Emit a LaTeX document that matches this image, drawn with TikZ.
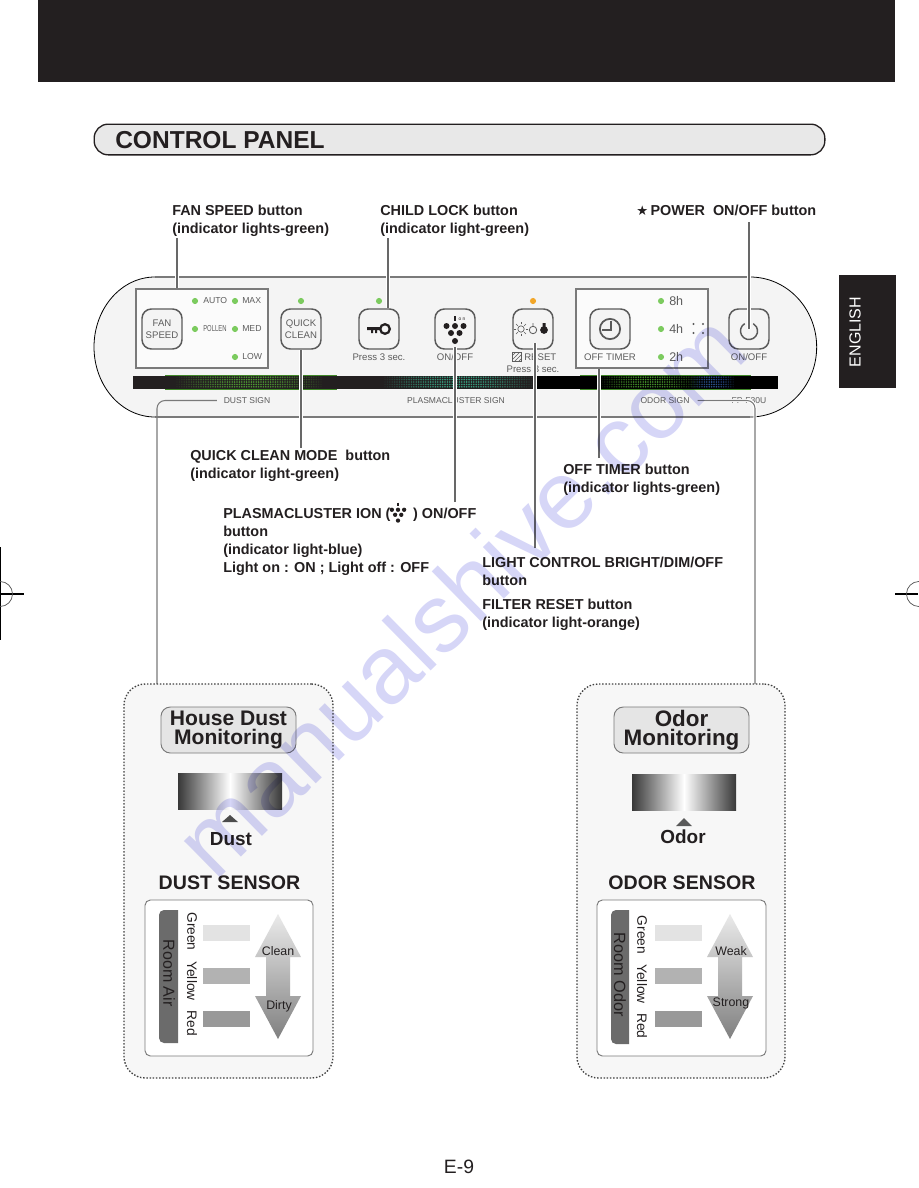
\documentclass[tikz,border=0pt]{standalone}
\usepackage{fontspec}
\setmainfont{Liberation Sans}
\newfontfamily\symfont{DejaVu Sans}
\usetikzlibrary{patterns}
\definecolor{ink}{HTML}{231F20}
\definecolor{panelgray}{HTML}{F4F4F4}
\definecolor{linegray}{HTML}{7A7A7A}
\definecolor{btngray}{HTML}{5A5A5A}
\definecolor{textgray}{HTML}{5C5C5C}
\definecolor{lampgreen}{HTML}{7CCB5F}
\definecolor{lamporange}{HTML}{F2A628}
\definecolor{glowgreen}{HTML}{5CC23A}
\definecolor{glowteal}{HTML}{3FC9A0}
\definecolor{glowblue}{HTML}{3A6FC0}
\definecolor{sitemark}{HTML}{D6D6F7}
\begin{document}
\begin{tikzpicture}[x=0.75pt, y=-0.75pt,
lbl/.style={font=\fontsize{10.8}{13.5}\selectfont\bfseries, align=left, anchor=north west, inner sep=0pt, text=ink},
small/.style={font=\fontsize{7.2}{8.8}\selectfont, inner sep=0pt, text=textgray, align=center},
lampword/.style={font=\fontsize{6.5}{8}\selectfont, anchor=west, inner sep=0pt, text=textgray},
sign/.style={font=\fontsize{6.4}{8}\selectfont, inner sep=0pt, text=textgray},
btn/.style={draw=btngray, line width=1.1pt, rounded corners=7pt, fill=panelgray, minimum width=30pt, minimum height=30pt, inner sep=0pt},
groupbox/.style={draw=linegray, line width=1pt, fill=white!60!panelgray, inner sep=0pt},
lamp/.style={circle, fill=lampgreen, minimum size=4.6pt, inner sep=0pt},
leader/.style={draw=linegray!85!black, line width=0.95pt, preaction={draw=white, line width=2.6pt}},
signline/.style={draw=linegray, line width=0.8pt, rounded corners=6pt},
sensorbox/.style={draw=black!75, dash pattern=on 1.1pt off 1.3pt, line width=1pt, fill=black!3, rounded corners=16pt, inner sep=0pt},
monbox/.style={draw=linegray, line width=0.7pt, fill=black!10, rounded corners=7pt, inner sep=0pt, align=center, text=ink},
sensehead/.style={font=\fontsize{14.7}{18}\selectfont\bfseries, inner sep=0pt, text=ink},
signword/.style={font=\fontsize{14.2}{17}\selectfont\bfseries, inner sep=0pt, text=ink},
chart/.style={draw=linegray, line width=0.7pt, fill=white, rounded corners=4pt, inner sep=0pt},
colorword/.style={font=\fontsize{10.3}{12}\selectfont, rotate=-90, inner sep=0pt, text=ink},
airword/.style={font=\fontsize{9.3}{11}\selectfont, inner sep=0pt, text=ink},
grapes/.pic={
  \fill (-8.5,-4.5) circle[radius=3] (0,-4.5) circle[radius=3] (8.5,-4.5) circle[radius=3]
        (-4,2.5) circle[radius=3] (4.5,2.5) circle[radius=3] (0,10.5) circle[radius=3];
  \draw[line width=0.8pt] (0,-14.5) -- (0,-9.5);
}]
\useasboundingbox (0,0) rectangle (918,1188);

\fill[ink] (38,0) rectangle (895,82);
\draw[black, line width=0.8pt] (0.5,547) -- (0.5,640);
\draw[black, line width=0.8pt] (0,594) -- (24,594);
\draw[black!70, line width=0.5pt] (0,594) circle[radius=9.4pt];
\draw[black, line width=0.8pt] (895,594) -- (918,594);
\draw[black!70, line width=0.5pt] (919,594) circle[radius=9.4pt];

% heading bar
\node[draw=ink, line width=1pt, fill=black!9, rounded corners=10.5pt, minimum width=548pt, minimum height=23pt, inner sep=0pt] (titlebar) at (459.5,139.5) {};
\node[font=\fontsize{18.4}{20}\selectfont\bfseries, anchor=west, inner sep=0pt, text=ink] (titletext) at (115,140) {CONTROL PANEL};
\node[fill=ink, minimum width=42.75pt, minimum height=84.75pt, inner sep=0pt] (langtab) at (867.5,331.5) {};
\node[font=\fontsize{12}{14}\selectfont, rotate=90, text=white, inner sep=0pt] (langtext) at (855,332) {ENGLISH};

% unit front
\fill[panelgray] (155,277) -- (750,277) arc[start angle=90, end angle=-90, x radius=50pt, y radius=52.5pt] -- (155,417) arc[start angle=270, end angle=90, x radius=45.75pt, y radius=52.5pt] -- cycle;
\draw[linegray, line width=1pt] (155,277) -- (750,277) (155,417) -- (750,417);
\draw[black, line width=0.6pt] (155,277) arc[start angle=90, end angle=270, x radius=45.75pt, y radius=52.5pt];
\draw[black, line width=0.6pt] (750,417) arc[start angle=-90, end angle=90, x radius=50pt, y radius=52.5pt];

\fill[ink] (133,375.5) rectangle (534,389);
\fill[black] (534,375.5) rectangle (778,389);
\draw[glowgreen!70!black, line width=0.7pt] (165,375.5) -- (337,375.5) (165,389) -- (337,389) (580,375.5) -- (751,375.5) (580,389) -- (751,389);
\foreach \xa/\xb/\hue in {177/322/glowgreen, 385/533/glowteal, 600/700/glowgreen, 690/735/glowblue}{
  \pgfmathsetmacro\xs{\xa+2.4}
  \foreach \dx in {\xa,\xs,...,\xb}{
    \pgfmathsetmacro\glow{0.06+0.7*sin(180/(\xb-\xa)*(\dx-\xa))}
    \foreach \row in {377.2,379.6,382,384.4,386.8}
      \fill[\hue, opacity=\glow] (\dx,\row) circle[radius=0.9];
  }
}

\node[groupbox, minimum width=99pt, minimum height=59.25pt] (fanbox) at (202,328.5) {};
\node[groupbox, minimum width=99pt, minimum height=59.25pt] (timerbox) at (642,328.5) {};

\node[btn, font=\fontsize{7.2}{8.8}\selectfont, text=textgray, align=center] (fanbtn) at (162,329) {FAN\\SPEED};
\node[btn, font=\fontsize{7.2}{8.8}\selectfont, text=textgray, align=center] (quickbtn) at (301,329) {QUICK\\CLEAN};
\node[btn] (keybtn) at (379,329) {};
\node[btn] (plasmabtn) at (455,329) {};
\node[btn] (lightbtn) at (533,329) {};
\node[btn] (timerbtn) at (610,329) {};
\node[btn] (powerbtn) at (749,329) {};

\node[lamp] (autolamp) at (195,301) {};
\node[lamp] (maxlamp) at (235,301) {};
\node[lamp] (pollenlamp) at (195,329) {};
\node[lamp] (medlamp) at (235,329) {};
\node[lamp] (lowlamp) at (235,357) {};
\node[lamp] (quicklamp) at (301,301) {};
\node[lamp] (keylamp) at (379,301) {};
\node[lamp, fill=lamporange] (filterlamp) at (533,301) {};
\node[lamp] (lamp8h) at (661,301) {};
\node[lamp] (lamp4h) at (661,329) {};
\node[lamp] (lamp2h) at (661,357) {};

\node[lampword] (autotext) at (203,301) {AUTO};
\node[lampword] (maxtext) at (242,301) {MAX};
\node[lampword] (pollentext) at (203,329) {\scalebox{.68}[1]{POLLEN}};
\node[lampword] (medtext) at (242,329) {MED};
\node[lampword] (lowtext) at (242,357) {LOW};
\node[small, anchor=west, font=\fontsize{9.4}{11}\selectfont] (text8h) at (669,301) {8h};
\node[small, anchor=west, font=\fontsize{9.4}{11}\selectfont] (text4h) at (669,329) {4h};
\node[small, anchor=west, font=\fontsize{9.4}{11}\selectfont] (text2h) at (669,357) {2h};
\fill[btngray] (693.5,324) circle[radius=1.1] (703,324) circle[radius=1.1] (693.5,333) circle[radius=1.1] (703,333) circle[radius=1.1];

\node[small] (presskey) at (379,357) {Press 3 sec.};
\node[small] (plasmaonoff) at (455,357) {ON/OFF};
\node[small, anchor=west] (resettext) at (524,357) {RESET};
\node[draw=textgray, pattern=north east lines, pattern color=textgray, minimum width=7pt, minimum height=6.5pt, inner sep=0pt] (resetmark) at (517,357) {};
\node[small] (pressfilter) at (533,369) {Press 3 sec.};
\node[small] (timertext) at (610,357) {OFF TIMER};
\node[small] (poweronoff) at (749,357) {ON/OFF};

% button symbols
\draw[ink, line width=1.7pt] (385,329) circle[radius=3.6pt];
\fill[ink] (367,327) rectangle (381,330) (371,330) rectangle (373,333) (375,330) rectangle (377,333);
\pic[ink] at (455,330.5) {grapes};
\node[font=\fontsize{3.6}{4}\selectfont, inner sep=0pt, text=ink] (ontag) at (462,319) {o n};
\draw[textgray, line width=0.5pt] (521,329) circle[radius=2.4pt];
\foreach \ang in {0,45,...,315}
  \draw[textgray, line width=0.5pt] (521,329) ++(\ang:3.4pt) -- ++(\ang:1.8pt);
\draw[textgray, line width=0.6pt] (533,330) circle[radius=2.8pt] (533,326) -- (533,323);
\fill[ink] (544,330) circle[radius=2.9pt] (542.5,323) rectangle (545.5,327);
\draw[btngray, line width=1.3pt] (610,329) circle[radius=7.6pt];
\draw[btngray, line width=1.3pt] (611,321) -- (611,330) -- (602,330);
\draw[btngray, line width=1.1pt] (744.75,323.6) arc[start angle=120, end angle=420, radius=6.4pt];

\node[sign] (dustsign) at (247,400.5) {DUST SIGN};
\node[sign] (plasmasign) at (456,400.5) {PLASMACLUSTER SIGN};
\node[sign] (odorsign) at (665,400.5) {ODOR SIGN};
\node[sign] (modelsign) at (749,400.5) {FP-F30U};

% callouts
\node[lbl] (fanlabel) at (172,205) {FAN SPEED button\\(indicator lights-green)};
\node[lbl] (childlabel) at (380,205) {CHILD LOCK button\\(indicator light-green)};
\node[lbl] (powerlabel) at (636,205) {{\symfont\fontsize{10}{12}\selectfont ★}\,POWER\ \ ON/OFF button};
\node[lbl] (quicklabel) at (190,450) {QUICK CLEAN MODE\ \ button\\(indicator light-green)};
\node[lbl] (timerlabel) at (563,464) {OFF TIMER button\\(indicator lights-green)};
\node[lbl] (plasmalabel) at (223,508) {PLASMACLUSTER ION (\hspace{17pt}) ON/OFF\\button\\(indicator light-blue)\\Light on : ON ; Light off : OFF};
\pic[ink, scale=.72] at (398,513) {grapes};
\node[lbl] (lightlabel) at (482,557) {LIGHT CONTROL BRIGHT/DIM/OFF\\button};
\node[lbl] (filterlabel) at (482,599) {FILTER RESET button\\(indicator light-orange)};

\coordinate (fanend) at (177,238);
\coordinate (childend) at (388,238);
\coordinate (powerend) at (749,222);
\coordinate (quickend) at (301,448);
\coordinate (plasmaend) at (455,502);
\coordinate (lightend) at (535,548);
\coordinate (timerend) at (599,458);
\coordinate (dustdrop) at (157,685);
\coordinate (odordrop) at (755,685);
\draw[leader] (fanend) -- (fanend |- fanbox.north);
\draw[leader] (childend) -- (childend |- keybtn.north);
\draw[leader] (powerend) -- (powerbtn.center);
\draw[leader] (quickbtn.south) -- (quickend);
\draw[leader] (plasmaend) -- (plasmaend |- plasmabtn.south) -- ++(0,-3);
\draw[leader] (lightend) -- (lightend |- lightbtn.south) -- ++(0,-7);
\draw[leader] (timerend) -- (timerend |- timerbox.south);
\draw[signline] (dustdrop) |- ([xshift=-5pt]dustsign.west);
\draw[signline, preaction={draw=white, line width=2.4pt}] ([xshift=6pt]odorsign.east) -| (odordrop);

% dust side
\node[sensorbox, minimum width=156.75pt, minimum height=295.5pt] (dustpanel) at (228.5,881) {};
\node[monbox, minimum width=101.25pt, minimum height=34.5pt, font=\fontsize{15.8}{14.6}\selectfont\bfseries] (dusttitle) at (228.5,730) {House Dust\\Monitoring};
\path[left color=black!78, right color=black!78, middle color=white] (178,773) rectangle (282,809);
\fill[black!70] (230,815) -- (238,822) -- (222,822) -- cycle;
\node[signword] (dustword) at (231,839) {Dust};
\node[sensehead] (dusthead) at (229.5,883) {DUST SENSOR};
\node[chart, minimum width=126pt, minimum height=117pt] (dustchart) at (229,978) {};
\fill[black!58] (178,910) -- (164,910) arc[start angle=90, end angle=180, radius=3.75pt] -- (159,1038) arc[start angle=180, end angle=270, radius=3.75pt] -- (178,1043) -- cycle;
\node[font=\fontsize{12}{14}\selectfont, rotate=-90, inner sep=0pt, text=ink] (dustroom) at (169,973) {Room Air};
\node[colorword] (dustgreen) at (192,931.5) {Green};
\node[colorword] (dustyellow) at (192,981) {Yellow};
\node[colorword] (dustred) at (192,1023.5) {Red};
\fill[black!11] (203,925) rectangle (250,941);
\fill[black!30] (203,968) rectangle (250,984);
\fill[black!40] (203,1011) rectangle (250,1027);
\path[top color=black!8, bottom color=black!50] (278,914) -- (301,957) -- (290,957) -- (290,996) -- (301,996) -- (278,1039) -- (255,996) -- (266,996) -- (266,957) -- (255,957) -- cycle;
\node[airword] (dustclean) at (278,951) {Clean};
\node[airword] (dustdirty) at (279,1006) {Dirty};

% odor side
\node[sensorbox, minimum width=156pt, minimum height=295.5pt] (odorpanel) at (681,881) {};
\node[monbox, minimum width=101.25pt, minimum height=34.5pt, font=\fontsize{16.8}{14.6}\selectfont\bfseries] (odortitle) at (681.5,730) {Odor\\Monitoring};
\path[left color=black!78, right color=black!78, middle color=white] (632,774) rectangle (736,810);
\fill[black!65] (684,818) -- (692,826) -- (676,826) -- cycle;
\node[signword] (odorword) at (683,837) {Odor};
\node[sensehead] (odorhead) at (682,883) {ODOR SENSOR};
\node[chart, minimum width=126.75pt, minimum height=117pt] (odorchart) at (681.5,978) {};
\fill[black!58] (629,910) -- (616,910) arc[start angle=90, end angle=180, radius=3.75pt] -- (611,1039) arc[start angle=180, end angle=270, radius=3.75pt] -- (629,1044) -- cycle;
\node[font=\fontsize{12.2}{14}\selectfont, rotate=-90, inner sep=0pt, text=ink] (odorroom) at (620,975) {Room Odor};
\node[colorword] (odorgreen) at (642,935) {Green};
\node[colorword] (odoryellow) at (642,984) {Yellow};
\node[colorword] (odorred) at (642,1026) {Red};
\fill[black!11] (655,925) rectangle (702,941);
\fill[black!30] (655,968) rectangle (702,984);
\fill[black!40] (655,1011) rectangle (702,1027);
\path[top color=black!8, bottom color=black!50] (730,914) -- (753,957) -- (742,957) -- (742,996) -- (753,996) -- (730,1039) -- (707,996) -- (718,996) -- (718,957) -- (707,957) -- cycle;
\node[airword] (odorweak) at (731,951) {Weak};
\node[airword] (odorstrong) at (731,1003) {Strong};

\node[font=\fontsize{14.5}{17}\selectfont, inner sep=0pt, text=ink] (pagenum) at (459,1167) {E-9};

\begin{scope}[blend mode=multiply]
\node[font=\fontsize{72.5}{80}\selectfont, rotate=44.5, inner sep=0pt, text=sitemark] (sitename) at (460,594) {manualshive.com};
\end{scope}
\end{tikzpicture}
\end{document}
